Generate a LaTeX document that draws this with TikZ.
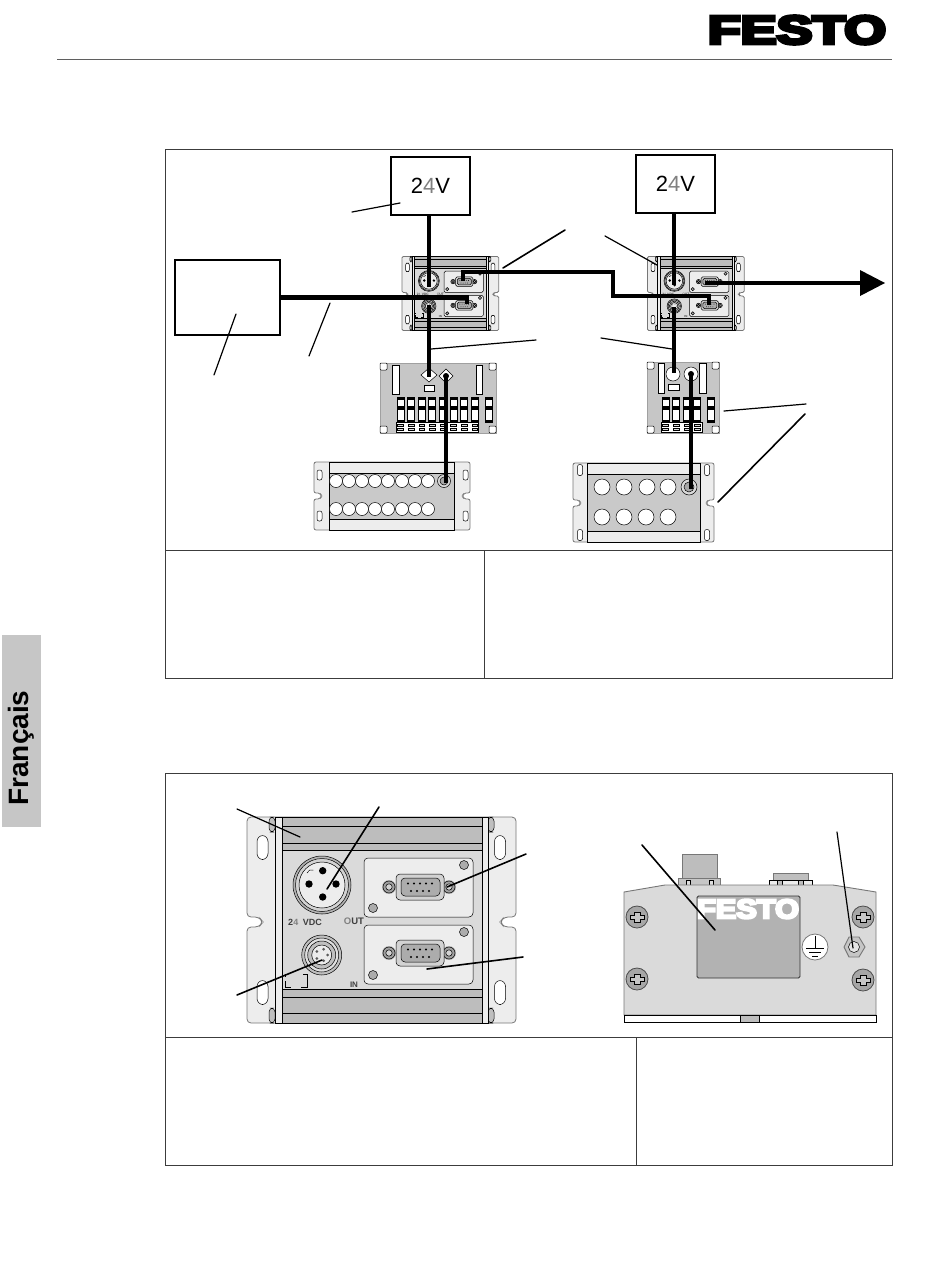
\documentclass[tikz,border=0pt]{standalone}
\usepackage{fontspec}
\setmainfont{Liberation Sans}
\newfontfamily\logofont[FakeBold=8]{Liberation Sans Bold}
\definecolor{framec}{HTML}{3C3C3C}
\definecolor{bandc}{HTML}{BDBDBD}
\definecolor{platec}{HTML}{EDEDED}
\definecolor{midc}{HTML}{DADADA}
\definecolor{edgec}{HTML}{777777}
\tikzset{
  framebox/.style={draw=framec,line width=.9pt,fill=none},
  wire/.style={draw=black,line width=4.2pt,line cap=butt,line join=miter},
  leader/.style={draw=black,line width=1.2pt,line cap=round},
  lead2/.style={draw=black,line width=1.6pt,line cap=round},
  psbox/.style={draw=black,line width=1.6pt,fill=white,minimum width=79pt,minimum height=58pt,inner sep=0pt,font=\fontsize{22}{24}\selectfont},
  gw/.style={draw=black,line width=.5pt},
  pl/.style={draw=edgec,line width=.8pt,fill=platec},
}
\newcommand\leadline[3][leader]{\draw[#1] #2 -- #3;}
\newcommand\hole[4]{\draw[gw,fill=white,rounded corners=#4] (#1-5.5,#2-12) rectangle (#1+5.5,#2+12);}
\newcommand\dsubcon[3]{%
  \foreach \sx in {-31,29}{
    \fill[gray!60] (#1+\sx,#2) circle[radius=7];
    \draw[gw,fill=gray!75] (#1+\sx,#2) circle[radius=6];
    \draw[gw,fill=gray!35] (#1+\sx,#2) circle[radius=3.2];
  }
  \draw[gw,fill=gray!35,rounded corners=#3] (#1-24,#2-13) rectangle (#1+24,#2+13);
  \draw[gw,fill=gray!65,rounded corners=#3] (#1-19,#2-9) rectangle (#1+20,#2+9);
  \foreach \px in {-12,-6,0,6,12}{\fill (#1+\px,#2-3.5) circle[radius=1.1];}
  \foreach \px in {-9,-3,3,9}{\fill (#1+\px,#2+4) circle[radius=1.1];}
}
% gateway front view, drawn in the coordinates of the large view; #1,#2 centre, #3 scale
\newcommand\gateway[3]{%
\begin{scope}[shift={(#1,#2)},scale=#3,shift={(-382,-920)}]
  \pgfmathsetmacro\rr{#3*4}
  \pgfmathsetmacro\rs{#3*6}
  \draw[pl,rounded corners=\rr pt] (247,817) -- (516,817) -- (516,917) -- (504,917) -- (500,922) -- (504,927) -- (516,927) -- (516,1023) -- (247,1023) -- (247,927) -- (259,927) -- (263,922) -- (259,917) -- (247,917) -- cycle;
  \hole{262.5}{847.5}{x}{\rs pt}
  \hole{262.5}{992.5}{x}{\rs pt}
  \hole{500}{847.5}{x}{\rs pt}
  \hole{500}{992.5}{x}{\rs pt}
  \foreach \bx in {269,488}{\foreach \by in {817,1008}{\draw[gw,fill=gray!50,rounded corners=\rr pt] (\bx,\by) rectangle (\bx+6,\by+15);}}
  \fill[midc] (275,850) rectangle (488,989);
  \draw[gw,fill=bandc] (275,817) rectangle (488,850);
  \draw[gw] (275,826) -- (488,826) (275,843) -- (488,843);
  \draw[gw,fill=bandc] (275,989) rectangle (488,1023);
  \draw[gw] (275,997) -- (488,997) (275,1013) -- (488,1013);
  \draw[gw,fill=platec] (275,817) rectangle (282,1023);
  \draw[gw,fill=platec] (482,817) rectangle (488,1023);
  % round supply connector
  \draw[gw,fill=gray!60] (322,885) circle[radius=29];
  \draw[gw,fill=gray!35] (322,885) circle[radius=26.5];
  \draw[gw,fill=platec] (322,885) circle[radius=23];
  \draw[gw,fill=white] (307,873) arc[start angle=200,end angle=290,radius=5];
  \foreach \qx/\qy in {322.7/870.7,309/884,336/884,322.7/897}{\fill (\qx,\qy) circle[radius=3.7];}
  % small connector
  \draw[gw,fill=gray!50] (321.7,955) circle[radius=20];
  \draw[gw,fill=gray!25] (321.7,955) circle[radius=17];
  \draw[gw,fill=gray!50] (321.7,955) circle[radius=14];
  \draw[gw,fill=gray!15] (321.7,955) circle[radius=10];
  \foreach \ang in {0,72,...,288}{\fill[gray!70!black] (321.7,955)++(\ang:6) circle[radius=1.5];}
  % panels
  \foreach \py in {858,925}{
    \draw[gw,fill=platec,rounded corners=\rr pt] (364,\py) rectangle (473,\py+59);
    \draw[gw,fill=gray!65] (464,\py+7) circle[radius=4.5];
    \draw[gw,fill=gray!65] (373,\py+50) circle[radius=4.5];
  }
  \dsubcon{420}{887}{\rr pt}
  \dsubcon{420}{953}{\rr pt}
  % marks and texts
  \draw[gw,line width=.7pt] (285,981) -- (285,987) -- (291,987) (285,974) -- (285,977) (307,974) -- (307,987) -- (301,987) (307,974) -- (303,974);
  \node[transform shape,font=\bfseries\fontsize{9}{10}\selectfont,inner sep=0pt,text=black!75] (vdctext#1) at (305,922) {2\textcolor{gray}{4}\hspace{.5em}VDC};
  \node[transform shape,font=\bfseries\fontsize{9.5}{10}\selectfont,inner sep=0pt,text=black!75] (outtext#1) at (354,921) {\textcolor{gray}{O}UT};
  \node[transform shape,font=\bfseries\fontsize{8}{10}\selectfont,inner sep=0pt,text=black!75] (intext#1) at (354,985) {IN};
\end{scope}}
% terminal cell
\newcommand\termcell[1]{%
  \draw[black,line width=.7pt,fill=white] (#1,397) rectangle (#1+7,422);
  \fill (#1,397) rectangle (#1+7,399.5);
  \fill (#1,406) rectangle (#1+7,410);
  \fill (#1,420) rectangle (#1+7,422);
}
\newcommand\stripcell[1]{%
  \draw[black,line width=.45pt,fill=gray!30] (#1+.7,424) rectangle (#1+6.3,426.5);
  \draw[black,line width=.45pt,fill=gray!30] (#1+.7,428) rectangle (#1+6.3,430.5);
}
\begin{document}
\begin{tikzpicture}[x=1pt,y=-1pt]
\useasboundingbox (0,0) rectangle (950,1286);
% page furniture
\node[inner sep=0pt,anchor=center] (logo) at (797,30) {\resizebox{178pt}{28pt}{\logofont FESTO}};
\draw[edgec!80!black,line width=1pt] (57,59) -- (892,59);
\fill[gray!45] (2,635) rectangle (41,827);
\node[rotate=90,font=\bfseries\fontsize{28}{30}\selectfont,inner sep=0pt] (lang) at (21,748) {Français};
% frames
\draw[framebox] (165,149) rectangle (892,678);
\draw[framebox] (165,550) -- (892,550);
\draw[framebox] (484,550) -- (484,678);
\draw[framebox] (165,773) rectangle (892,1165);
\draw[framebox] (165,1037) -- (892,1037);
\draw[framebox] (636,1037) -- (636,1165);
% supply and master boxes
\node[psbox] (psa) at (430.5,186) {2\textcolor{gray}{4}V};
\node[psbox] (psb) at (675.5,184) {2\textcolor{gray}{4}V};
\node[draw=black,line width=1.6pt,fill=white,minimum width=105pt,minimum height=75pt,inner sep=0pt] (master) at (227.5,297.5) {};
% gateways
\gateway{450.5}{293.5}{.36}
\gateway{696}{293.5}{.36}
% terminal module 1
\fill[gray!45] (380,363) rectangle (496,433);
\draw[edgec!70,line width=.6pt] (380,363) rectangle (496,433);
\foreach \cx/\cy in {380/363,489/363,380/426,489/426}{\draw[gw,fill=white,rounded corners=1pt] (\cx,\cy) rectangle (\cx+7,\cy+7);}
\draw[gw,fill=white] (392,365) rectangle (399,394);
\draw[gw,fill=white] (476,365) rectangle (482,394);
\draw[gw,fill=white] (424,385) rectangle (434,391);
\foreach \tx in {397,407.6,418.2,428.8,439.4,450,460.6,471.2}{\termcell{\tx}}
\termcell{485}
\fill[white] (396,422) rectangle (478.5,432);
\draw[gw] (396,422) rectangle (478.5,432);
\foreach \tx in {397,407.6,418.2,428.8,439.4,450,460.6,471.2}{\stripcell{\tx}}
\draw[gw,fill=white] (429,368) -- (437,375) -- (429,382) -- (421,375) -- cycle;
\draw[gw,fill=white] (446,369) -- (453,376) -- (446,383) -- (439,376) -- cycle;
\fill (446,376) circle[radius=3];
% terminal module 2
\fill[gray!45] (647,362) rectangle (719,433);
\draw[edgec!70,line width=.6pt] (647,362) rectangle (719,433);
\foreach \cx/\cy in {647/362,712/362,647/426,712/426}{\draw[gw,fill=white,rounded corners=1pt] (\cx,\cy) rectangle (\cx+7,\cy+7);}
\draw[gw,fill=white] (658,363) rectangle (664,393);
\draw[gw,fill=white] (699,363) rectangle (706,393);
\draw[gw,fill=white] (668,384) rectangle (679,390);
\foreach \tx in {662,672.6,683.2,693.8}{\termcell{\tx}}
\termcell{707}
\fill[white] (661,422) rectangle (702,432);
\draw[gw] (661,422) rectangle (702,432);
\foreach \tx in {662,672.6,683.2,693.8}{\stripcell{\tx}}
\draw[gw,fill=white] (673,374) circle[radius=7];
\draw[gw,fill=white] (691,374) circle[radius=7];
\fill (691,374) circle[radius=3];
% I/O module 1
\draw[pl,rounded corners=2pt] (314,462) -- (470,462) -- (470,493) -- (464,493) -- (462,496) -- (464,499) -- (470,499) -- (470,530) -- (314,530) -- (314,499) -- (320,499) -- (322,496) -- (320,493) -- (314,493) -- cycle;
\foreach \hx in {319.5,465.5}{\foreach \hy in {475,516}{\draw[gw,fill=white,rounded corners=2pt] (\hx-2.5,\hy-5) rectangle (\hx+2.5,\hy+5);}}
\draw[gw,fill=platec] (329,462) rectangle (454,530);
\draw[gw,fill=gray!42] (329,473) rectangle (454,519);
\foreach \qx in {336,349,362,375,388,402,415,428}{\draw[gw,fill=white] (\qx,481) circle[radius=6.5];\draw[gw,fill=white] (\qx,509) circle[radius=6.5];}
\draw[gw,fill=gray!30] (444,481) circle[radius=6.5];
\draw[gw,fill=gray!70] (444,481) circle[radius=4];
% I/O module 2
\draw[pl,rounded corners=2pt] (573,463) -- (714,463) -- (714,500) -- (708,500) -- (706,503) -- (708,506) -- (714,506) -- (714,542) -- (573,542) -- (573,506) -- (579,506) -- (581,503) -- (579,500) -- (573,500) -- cycle;
\foreach \hx in {580,707}{\foreach \hy in {470,535}{\draw[gw,fill=white,rounded corners=2pt] (\hx-2.5,\hy-5.5) rectangle (\hx+2.5,\hy+5.5);}}
\draw[gw,fill=platec] (587,463) rectangle (700,542);
\draw[gw,fill=gray!42] (587,474) rectangle (700,531);
\foreach \qx in {602,624,647,668}{\draw[gw,fill=white] (\qx,487) circle[radius=8];}
\foreach \qx in {602,624,646,668}{\draw[gw,fill=white] (\qx,517) circle[radius=8];}
\draw[gw,fill=gray!30] (689,487) circle[radius=8];
\draw[gw,fill=gray!70] (689,487) circle[radius=5];
% wires
\coordinate (jaTop) at (429,287);
\coordinate (jaBot) at (429,305);
\coordinate (jaMod) at (429,377);
\coordinate (jaMod2) at (446,376);
\coordinate (jaIO) at (446,483);
\coordinate (jbTop) at (674,285);
\coordinate (jbBot) at (674,307);
\coordinate (jbMod) at (674,373);
\coordinate (jbMod2) at (691,373);
\coordinate (jbIO) at (691,489);
\coordinate (inA) at (467,304);
\coordinate (outA) at (463,281);
\coordinate (inB) at (709,305);
\coordinate (outB) at (705,283);
\coordinate (tip) at (860,283);
\draw[wire] (psa.south -| jaTop) -- (jaTop);
\draw[wire] (jaBot) -- (jaMod);
\draw[wire] (jaMod2) -- (jaIO);
\draw[wire] (psb.south -| jbTop) -- (jbTop);
\draw[wire] (jbBot) -- (jbMod);
\draw[wire] (jbMod2) -- (jbIO);
\draw[wire] (master.east |- 0,297.5) -- (467,297.5) -- (inA);
\draw[wire] (outA) -- (463,272) -- (613,272) -- (613,296) -- (709,296) -- (inB);
\draw[wire] (outB) -- (tip);
\fill (860,270) -- (885,283) -- (860,296) -- cycle;
% leaders top
\leadline{(352,212)}{(400,203)}
\leadline[lead2]{(565,230)}{(503,268)}
\leadline{(605,236)}{(657,265)}
\leadline{(431,349)}{(536,340)}
\leadline{(672,349)}{(601,338)}
\leadline{(806,404)}{(724,411)}
\leadline[lead2]{(805,414)}{(718,502)}
\leadline{(236,314)}{(214,375)}
\leadline{(330,303)}{(309,356)}
% large gateway
\gateway{382}{920}{1}
\leadline{(237,809)}{(300,837)}
\leadline[lead2]{(379,807)}{(327,889)}
\leadline[lead2]{(526,854)}{(447,887)}
\leadline[lead2]{(523,957)}{(427,969)}
\leadline[lead2]{(237,995)}{(322,960)}
% side view
\draw[edgec,line width=.8pt,fill=bandc] (682,854) rectangle (717,878);
\draw[edgec,line width=.8pt,fill=gray!45] (678,878) rectangle (720,885);
\foreach \bx in {686,709}{\draw[gw,line width=.4pt,fill=gray!25] (\bx,880) rectangle (\bx+4,885);}
\draw[edgec,line width=.8pt,fill=gray!50] (773,873) rectangle (808,880);
\draw[gw,fill=platec] (769,880) rectangle (812,885);
\foreach \bx in {777,798}{\draw[gw,line width=.4pt,fill=bandc] (\bx,880) rectangle (\bx+5,885);}
\draw[edgec,line width=.9pt,fill=midc] (624,892) -- (665,885) -- (833,885) -- (876,892) -- (876,1015) -- (624,1015) -- cycle;
\draw[black,line width=.8pt,fill=white] (624,1015) rectangle (876,1022);
\draw[gw,fill=bandc] (740,1015) rectangle (759,1022);
\draw[black!80,line width=.8pt,fill=gray!60,rounded corners=1.5pt] (697,896) rectangle (800,978);
\node[inner sep=0pt,text=white] (platelogo) at (748,909) {\resizebox{102pt}{19pt}{\logofont FESTO}};
\foreach \sx/\sy in {637/917,637/979,863/917,863/980}{
  \draw[black!70,line width=.8pt,fill=gray!70] (\sx,\sy) circle[radius=11];
  \draw[gw,line width=.8pt,fill=gray!45] (\sx-3,\sy-5) -- (\sx+3,\sy-5) -- (\sx+3,\sy-2) -- (\sx+7,\sy-2) -- (\sx+7,\sy+2) -- (\sx+3,\sy+2) -- (\sx+3,\sy+5) -- (\sx-3,\sy+5) -- (\sx-3,\sy+2) -- (\sx-7,\sy+2) -- (\sx-7,\sy-2) -- (\sx-3,\sy-2) -- cycle;
}
\draw[edgec,line width=.8pt,fill=white] (815,947) circle[radius=13];
\draw[black,line width=.6pt] (815,936) -- (815,948) (806,948) -- (824,948) (809,952) -- (821,952) (812,956) -- (818,956);
\draw[edgec,line width=.9pt,fill=gray!45] (844,947) -- (849,937) -- (859,937) -- (865,947) -- (859,957) -- (849,957) -- cycle;
\draw[gw,fill=gray!20] (854,947) circle[radius=5.5];
\leadline[lead2]{(642,845)}{(715,930)}
\leadline{(837,832)}{(853,948)}
\end{tikzpicture}
\end{document}
